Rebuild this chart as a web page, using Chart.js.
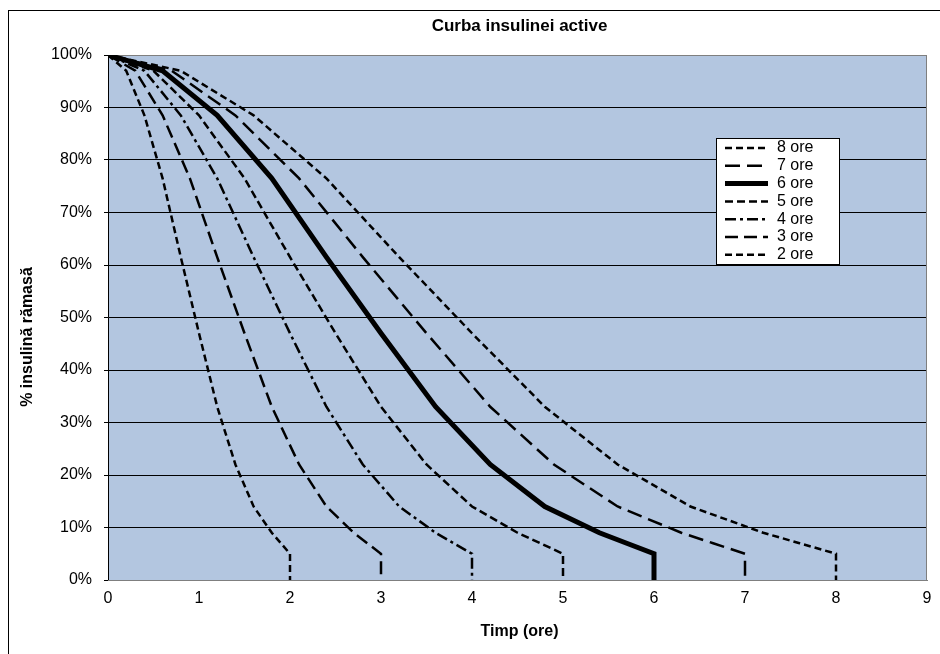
<!DOCTYPE html>
<html>
<head>
<meta charset="utf-8">
<script src="https://cdn.jsdelivr.net/npm/chart.js@4/dist/chart.umd.min.js"></script>
<style>
  body { margin: 0; background: #fff; }
  canvas { display: block; }
</style>
</head>
<body>
<canvas id="chartInsulin" width="940" height="654"></canvas>
<script>
// % insulina ramasa (aceeasi forma pentru toate curbele)
const procent = [100, 97, 88.5, 76.5, 61.5, 47, 33, 22, 14, 9, 7, 5, 0];

// ore pentru fiecare punct al curbelor
const ore2 = [0, 0.2, 0.4, 0.6, 0.8, 1.0, 1.2, 1.4, 1.6, 1.8, 1.9, 2, 2];
const ore3 = [0, 0.3, 0.6, 0.9, 1.2, 1.5, 1.8, 2.1, 2.4, 2.7, 2.85, 3, 3];
const ore4 = [0, 0.4, 0.8, 1.2, 1.6, 2.0, 2.4, 2.8, 3.2, 3.6, 3.8, 4, 4];
const ore5 = [0, 0.5, 1.0, 1.5, 2.0, 2.5, 3.0, 3.5, 4.0, 4.5, 4.75, 5, 5];
const ore6 = [0, 0.6, 1.2, 1.8, 2.4, 3.0, 3.6, 4.2, 4.8, 5.4, 5.7, 6, 6];
const ore7 = [0, 0.7, 1.4, 2.1, 2.8, 3.5, 4.2, 4.9, 5.6, 6.3, 6.65, 7, 7];
const ore8 = [0, 0.8, 1.6, 2.4, 3.2, 4.0, 4.8, 5.6, 6.4, 7.2, 7.6, 8, 8];

const etichete = ['8 ore', '7 ore', '6 ore', '5 ore', '4 ore', '3 ore', '2 ore'];
const xTicks = [0, 1, 2, 3, 4, 5, 6, 7, 8, 9];
const yTicks = [0, 10, 20, 30, 40, 50, 60, 70, 80, 90, 100];

function puncte(ore) {
    return ore.map((t, i) => ({ x: t, y: procent[i] }));
}

const FONT = '"Liberation Sans", Arial, sans-serif';

const fundal = {
    id: 'fundal',
    beforeDraw(chart) {
        const c = chart.ctx, a = chart.chartArea;
        c.save();
        c.fillStyle = '#fff';
        c.fillRect(0, 0, chart.width, chart.height);
        c.fillStyle = '#b3c6e0';
        c.fillRect(a.left, a.top, a.right - a.left, a.bottom - a.top);
        c.restore();
    },
    beforeDatasetsDraw(chart) {
        const c = chart.ctx, a = chart.chartArea;
        c.save();
        c.strokeStyle = '#7f7f7f';
        c.lineWidth = 1;
        c.strokeRect(a.left + 0.5, a.top + 0.5, a.right - a.left - 1, a.bottom - a.top);
        c.strokeStyle = '#000';
        c.beginPath();
        c.moveTo(a.left + 0.5, a.top);
        c.lineTo(a.left + 0.5, a.bottom);
        c.stroke();
        c.restore();
    },
    afterDraw(chart) {
        const c = chart.ctx, a = chart.chartArea;
        c.save();
        // chenar exterior
        c.strokeStyle = '#000';
        c.lineWidth = 1;
        c.strokeRect(8.5, 10.5, 1000, 1000);

        // titluri
        c.fillStyle = '#000';
        c.font = 'bold 17px ' + FONT;
        c.textAlign = 'center';
        c.textBaseline = 'middle';
        const cx = (a.left + a.right) / 2 + 2;
        c.fillText('Curba insulinei active', cx, 26);
        c.font = 'bold 16px ' + FONT;
        c.fillText('Timp (ore)', cx, 632);
        c.translate(28, 337);
        c.rotate(-Math.PI / 2);
        c.fillText('% insulină rămasă', 0, 0);
        c.restore();

        // legenda
        const lx = 716, ly = 138, lw = 123, lh = 126;
        c.save();
        c.fillStyle = '#fff';
        c.fillRect(lx, ly, lw, lh);
        c.strokeStyle = '#000';
        c.lineWidth = 1;
        c.strokeRect(lx + 0.5, ly + 0.5, lw, lh);
        c.font = '16px ' + FONT;
        c.textBaseline = 'middle';
        chart.data.datasets.forEach((ds, i) => {
            const y = ly + 10 + i * 17.8;
            c.save();
            c.strokeStyle = ds.borderColor;
            c.lineWidth = ds.borderWidth;
            c.setLineDash(ds.borderDash || []);
            c.beginPath();
            c.moveTo(lx + 9, y);
            c.lineTo(lx + 52, y);
            c.stroke();
            c.restore();
            c.fillStyle = '#000';
            c.fillText(ds.label, lx + 61, y);
        });
        c.restore();
    }
};

const ctx = document.getElementById('chartInsulin').getContext('2d');
const chart = new Chart(ctx, {
    type: 'line',
    data: {
        datasets: [
            { label: etichete[0], data: puncte(ore8), borderColor: '#000', borderWidth: 2.5, borderDash: [7, 4] },
            { label: etichete[1], data: puncte(ore7), borderColor: '#000', borderWidth: 2.5, borderDash: [15, 7] },
            { label: etichete[2], data: puncte(ore6), borderColor: '#000', borderWidth: 5, borderDash: [] },
            { label: etichete[3], data: puncte(ore5), borderColor: '#000', borderWidth: 2.5, borderDash: [8, 4] },
            { label: etichete[4], data: puncte(ore4), borderColor: '#000', borderWidth: 2.5, borderDash: [11, 4, 3, 4] },
            { label: etichete[5], data: puncte(ore3), borderColor: '#000', borderWidth: 2.5, borderDash: [13, 6] },
            { label: etichete[6], data: puncte(ore2), borderColor: '#000', borderWidth: 2.5, borderDash: [7, 4] }
        ]
    },
    options: {
        responsive: false,
        animation: false,
        layout: { padding: { left: 0, top: 55, right: 13, bottom: 0 } },
        elements: { point: { radius: 0 }, line: { tension: 0, fill: false } },
        plugins: { legend: { display: false }, title: { display: false }, tooltip: { enabled: false } },
        scales: {
            x: {
                type: 'linear',
                min: 0,
                max: 9,
                afterBuildTicks: s => { s.ticks = xTicks.map(v => ({ value: v })); },
                afterFit: s => { s.height = 74; },
                grid: { display: false },
                border: { display: true, color: '#7f7f7f', width: 1 },
                ticks: { color: '#000', font: { family: FONT, size: 16 }, padding: 1, maxRotation: 0 }
            },
            y: {
                min: 0,
                max: 100,
                afterBuildTicks: s => { s.ticks = yTicks.map(v => ({ value: v })); },
                afterFit: s => { s.width = 108; },
                grid: { color: '#000', lineWidth: 1, tickLength: 4, drawTicks: true },
                border: { display: true, color: '#000', width: 1 },
                ticks: { color: '#000', font: { family: FONT, size: 16 }, padding: 12, callback: v => v + '%' }
            }
        }
    },
    plugins: [fundal]
});
</script>
</body>
</html>
